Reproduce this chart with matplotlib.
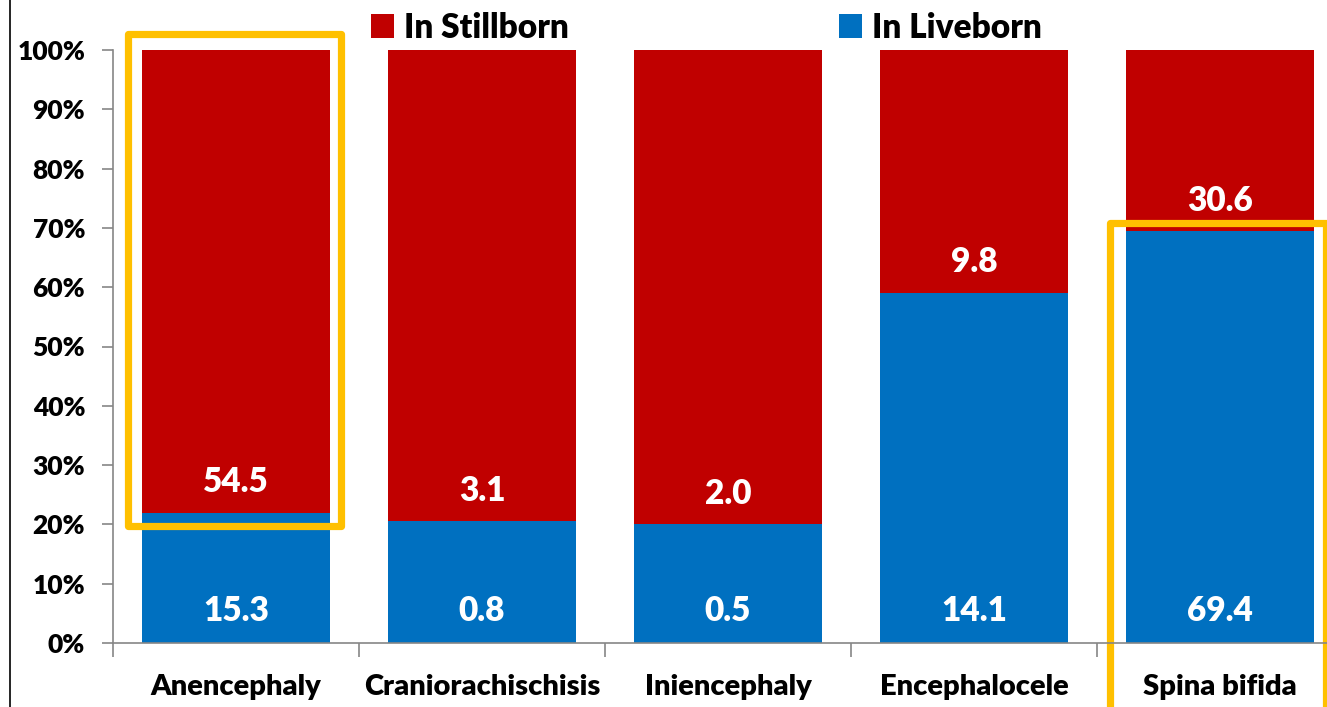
import matplotlib
matplotlib.use("Agg")
import matplotlib.pyplot as plt
import numpy as np
from matplotlib.patches import Rectangle
from matplotlib.lines import Line2D

categories = ["Anencephaly", "Craniorachischisis", "Iniencephaly", "Encephalocele", "Spina bifida"]
liveborn = [15.3, 0.8, 0.5, 14.1, 69.4]
stillborn = [54.5, 3.1, 2.0, 9.8, 30.6]
yticks = [0, 10, 20, 30, 40, 50, 60, 70, 80, 90, 100]

plt.rcParams['font.family'] = ['Lato', 'DejaVu Sans']
FW = "heavy"
plt.rcParams['font.weight'] = FW

W, H = 1327, 707
fig = plt.figure(figsize=(W / 100, H / 100), dpi=100)
ax = fig.add_axes([113 / W, (H - 643) / H, (1343 - 113) / W, 593 / H])

live = np.array(liveborn)
still = np.array(stillborn)
tot = live + still
live_pct = live / tot * 100
still_pct = still / tot * 100
x = np.arange(len(categories))
bw = 0.765
blue = "#0070C0"
red = "#C00000"
b1 = ax.bar(x, live_pct, bw, color=blue, label="In Liveborn", edgecolor="none")
b2 = ax.bar(x, still_pct, bw, bottom=live_pct, color=red, label="In Stillborn", edgecolor="none")

for i in range(len(categories)):
    ax.text(x[i], 5.4, f"{liveborn[i]:.1f}", ha="center", va="center", color="white",
            fontsize=24, fontweight=FW)
    ax.text(x[i], live_pct[i] + 5.2, f"{stillborn[i]:.1f}", ha="center", va="center", color="white",
            fontsize=24, fontweight=FW)

ax.set_xlim(-0.5, len(categories) - 0.5)
ax.set_ylim(0, 100)
ax.set_yticks(yticks)
ax.set_yticklabels([f"{v}%" for v in yticks], fontsize=19, fontweight=FW)
ax.set_xticks(x)
ax.set_xticklabels(categories, fontsize=21, fontweight=FW)
ax.set_xticks(np.arange(-0.5, len(categories), 1), minor=True)
ax.tick_params(axis="x", which="major", length=0, pad=22)
ax.tick_params(axis="x", which="minor", length=10, width=1.2, color="#868686", direction="out")
ax.tick_params(axis="y", length=8, width=1.2, color="#868686", direction="out", pad=12)
for s in ["top", "right"]:
    ax.spines[s].set_visible(False)
for s in ["left", "bottom"]:
    ax.spines[s].set_color("#868686")
    ax.spines[s].set_linewidth(1.2)

leg = ax.legend(handles=[b2, b1], loc="lower left", bbox_to_anchor=((375 - 113) / (1343 - 113) - 0.006, 1.005),
                ncol=2, frameon=False, handlelength=0.7, handleheight=0.7,
                handletextpad=0.3, columnspacing=8.1, borderaxespad=0.0, borderpad=0.1,
                prop={"weight": FW, "size": 24})

gold = "#FFC000"
r1 = Rectangle((-0.439, 0.197 * 100), 0.866, (1.027 - 0.197) * 100, fill=False, edgecolor=gold,
               linewidth=5.2, clip_on=False, joinstyle="round")
r2 = Rectangle((3.553, -20), 0.878, 20 + 70.8, fill=False, edgecolor=gold,
               linewidth=5.2, clip_on=False, joinstyle="round")
ax.add_patch(r1)
ax.add_patch(r2)

fig.add_artist(Line2D([9.5 / W, 9.5 / W], [0, 1], color="black", linewidth=1.2, transform=fig.transFigure))

fig.savefig("out.png", dpi=100)
